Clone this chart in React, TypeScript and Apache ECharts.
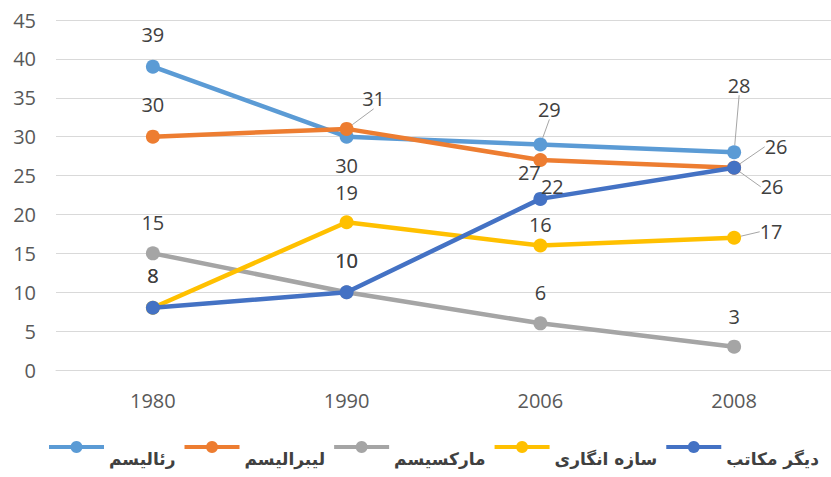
import React, { useEffect, useRef } from "react";
import * as echarts from "echarts";

const categories = ["1980", "1990", "2006", "2008"];
const seriesNames = ["رئالیسم", "لیبرالیسم", "مارکسیسم", "سازه انگاری", "دیگر مکاتب"];
const realism = [39, 30, 29, 28];
const liberalism = [30, 31, 27, 26];
const marxism = [15, 10, 6, 3];
const constructivism = [8, 19, 16, 17];
const others = [8, 10, 22, 26];
const seriesValues = [realism, liberalism, marxism, constructivism, others];
const colors = ["#5B9BD5", "#ED7D31", "#A5A5A5", "#FFC000", "#4472C4"];

// label offsets (dx, dy) from each point, and whether a leader line is drawn
const labelOffsets: [number, number, boolean][][] = [
  [[0, -32, false], [0, 29, false], [9, -35, true], [5, -67, true]],
  [[0, -32, false], [27, -30, true], [-11, 12, false], [42, -21, true]],
  [[0, -31, false], [0, -32, false], [0, -31, false], [0, -30, false]],
  [[0, -32, false], [0, -30, false], [0, -21, false], [37, -6, true]],
  [[0, -32, false], [0, -32, false], [12, -12, false], [38, 19, true]],
];

export default function App() {
  const ref = useRef<HTMLDivElement>(null);
  useEffect(() => {
    document.body.style.margin = "0";
    const chart = echarts.init(ref.current!, null, { renderer: "svg" });
    const series = seriesValues.map((vals, si) => ({
      name: seriesNames[si],
      type: "line",
      data: vals.map((v, di) => ({
        value: v,
        labelLine: {
          show: labelOffsets[si][di][2],
          lineStyle: { color: "#A6A6A6", width: 1 },
        },
      })),
      color: colors[si],
      symbol: "circle",
      symbolSize: 14,
      lineStyle: { width: 4.5, color: colors[si] },
      itemStyle: { color: colors[si] },
      label: {
        show: true,
        position: "inside",
        color: "#404040",
        fontSize: 20,
        fontFamily: "Open Sans",
      },
      labelLayout: (p: any) => {
        const o = labelOffsets[si][p.dataIndex];
        return { dx: o[0], dy: o[1] };
      },
      z: 2 + si,
    }));
    chart.setOption({
      animation: false,
      backgroundColor: "#fff",
      grid: { left: 56, top: 20, width: 780, height: 350 },
      legend: {
        top: 436,
        left: 42,
        width: 831,
        itemWidth: 55,
        itemHeight: 15,
        itemGap: 7,
        data: seriesNames,
        lineStyle: { width: 4 },
        formatter: (name: string) => `{t|${name}}`,
        textStyle: {
          color: "#404040",
          fontSize: 17,
          fontWeight: "bold",
          fontFamily: "DejaVu Sans",
          rich: {
            t: {
              color: "#404040",
              fontSize: 17,
              fontWeight: "bold",
              fontFamily: "DejaVu Sans",
              lineHeight: 40,
              verticalAlign: "bottom",
            },
          },
        },
      },
      xAxis: {
        type: "category",
        data: categories,
        boundaryGap: true,
        axisLine: { lineStyle: { color: "#D9D9D9", width: 1 } },
        axisTick: { show: false },
        axisLabel: { color: "#595959", fontSize: 20, fontFamily: "Open Sans", margin: 20 },
      },
      yAxis: {
        type: "value",
        min: 0,
        max: 45,
        interval: 5,
        axisLine: { show: false },
        axisTick: { show: false },
        splitLine: { lineStyle: { color: "#D9D9D9", width: 1 } },
        axisLabel: { color: "#595959", fontSize: 20, fontFamily: "Open Sans", margin: 20 },
      },
      series,
    });
    return () => chart.dispose();
  }, []);
  return <div ref={ref} style={{ width: 831, height: 477 }} />;
}
